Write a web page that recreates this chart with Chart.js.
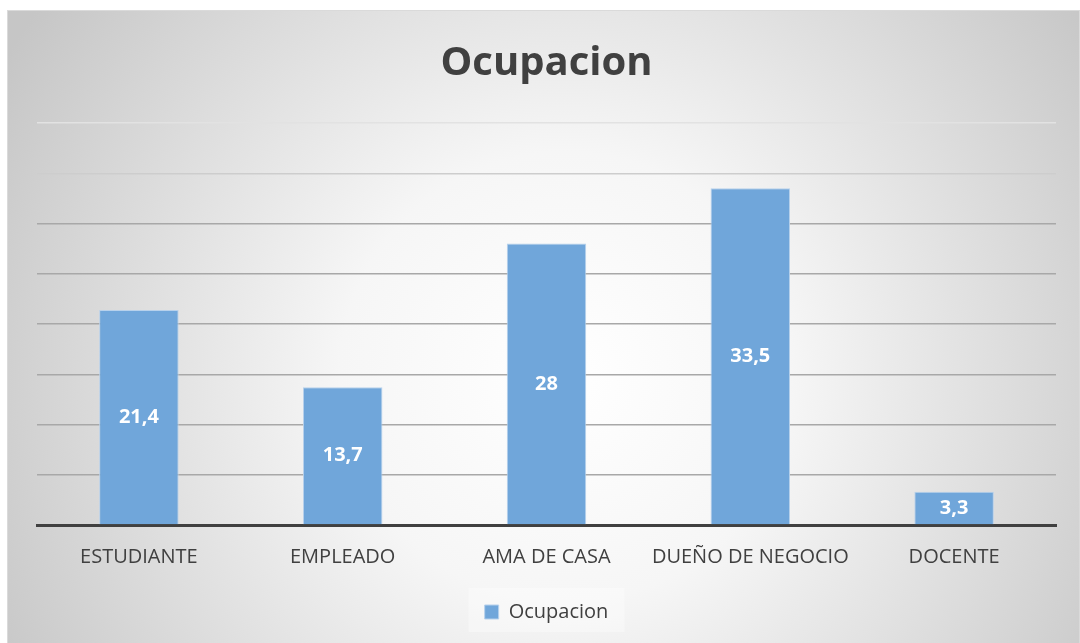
<!DOCTYPE html>
<html>
<head>
<meta charset="utf-8">
<script src="https://cdn.jsdelivr.net/npm/chart.js@4.4.1/dist/chart.umd.min.js"></script>
<style>
    html, body { margin: 0; padding: 0; background: #ffffff; }
    #wrap { position: absolute; left: 7px; top: 10px; width: 1073px; height: 633px; }
</style>
</head>
<body>
<div id="wrap"><canvas id="ocupacionChart"></canvas></div>
<script>
var categories = ['ESTUDIANTE', 'EMPLEADO', 'AMA DE CASA', 'DUEÑO DE NEGOCIO', 'DOCENTE'];
var ocupacion = [21.4, 13.7, 28, 33.5, 3.3];
var valueLabels = ['21,4', '13,7', '28', '33,5', '3,3'];
var seriesName = 'Ocupacion';

(function () {
    var fontFamily = '"Open Sans", "Noto Sans", sans-serif';

    // radial grey background like the office chart style
    var backgroundPlugin = {
        id: 'bgGradient',
        beforeDraw: function (chart) {
            var ctx = chart.ctx;
            var w = chart.width, h = chart.height;
            var g = ctx.createRadialGradient(w * 0.52, h * 0.58, 0, w * 0.52, h * 0.58, w * 0.6);
            g.addColorStop(0, '#ffffff');
            g.addColorStop(0.35, '#f6f6f6');
            g.addColorStop(1, '#c6c6c6');
            ctx.save();
            ctx.fillStyle = g;
            ctx.fillRect(0, 0, w, h);
            ctx.strokeStyle = '#dadada';
            ctx.lineWidth = 1;
            ctx.strokeRect(0.5, 0.5, w - 1, h);
            // soft panel behind the legend
            var lg = chart.legend;
            if (lg) {
                ctx.fillStyle = 'rgba(255,255,255,0.35)';
                ctx.fillRect(lg.left + (lg.width - 156) / 2, lg.bottom - 44, 156, 44);
            }
            ctx.restore();
        }
    };

    var valueLabelPlugin = {
        id: 'valueLabels',
        afterDatasetsDraw: function (chart) {
            var ctx = chart.ctx;
            var meta = chart.getDatasetMeta(0);
            ctx.save();
            ctx.fillStyle = '#ffffff';
            ctx.font = 'bold 20px ' + fontFamily;
            ctx.textAlign = 'center';
            ctx.textBaseline = 'middle';
            meta.data.forEach(function (bar, i) {
                ctx.fillText(valueLabels[i], bar.x, (bar.y + bar.base) / 2);
            });
            ctx.restore();
        }
    };

    new Chart(document.getElementById('ocupacionChart').getContext('2d'), {
        type: 'bar',
        data: {
            labels: categories,
            datasets: [{
                label: seriesName,
                data: ocupacion,
                backgroundColor: '#70a6da',
                borderColor: '#b7d1ec',
                borderWidth: 1,
                borderSkipped: 'bottom',
                categoryPercentage: 1,
                barPercentage: 0.39
            }]
        },
        options: {
            responsive: true,
            maintainAspectRatio: false,
            animation: false,
            layout: { padding: { left: 30, right: 24, top: 0, bottom: 11 } },
            plugins: {
                title: {
                    display: true,
                    text: seriesName,
                    color: '#404040',
                    font: { family: fontFamily, size: 40, weight: 'bold' },
                    padding: { top: 30, bottom: 35 }
                },
                legend: {
                    position: 'bottom',
                    labels: {
                        color: '#404040',
                        font: { family: fontFamily, size: 20 },
                        boxWidth: 14,
                        boxHeight: 14,
                        padding: 21
                    }
                },
                tooltip: { enabled: false }
            },
            scales: {
                x: {
                    grid: { display: false },
                    border: { color: '#404040', width: 3 },
                    ticks: {
                        color: '#404040',
                        font: { family: fontFamily, size: 20 },
                        padding: 12,
                        maxRotation: 0
                    }
                },
                y: {
                    min: 0,
                    max: 40,
                    ticks: { display: false, stepSize: 5 },
                    border: { display: false },
                    grid: {
                        drawTicks: false,
                        lineWidth: 1.5,
                        color: function (c) {
                            var v = c.tick ? c.tick.value : 0;
                            if (v >= 40) return '#e2e2e2';
                            if (v >= 35) return '#cdcdcd';
                            return '#a8a8a8';
                        }
                    }
                }
            }
        },
        plugins: [backgroundPlugin, valueLabelPlugin]
    });
})();
</script>
</body>
</html>
